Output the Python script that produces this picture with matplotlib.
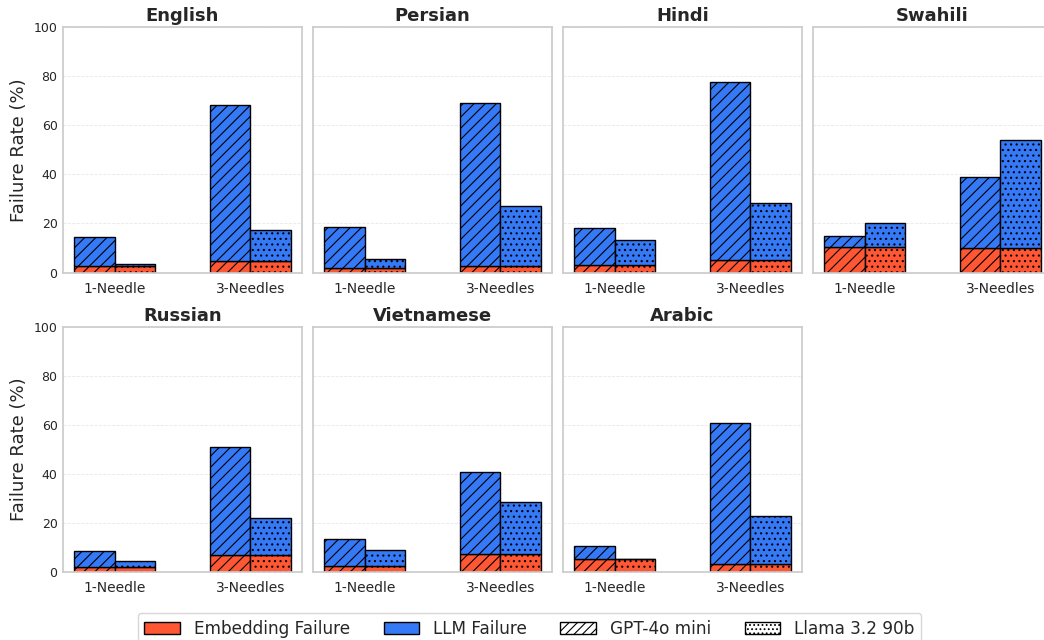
import numpy as np
import seaborn as sns
from matplotlib import pyplot as plt
from matplotlib.patches import Patch

sns.set_theme(style="whitegrid")
plt.rcParams["hatch.linewidth"] = 0.8

languages = ["English", "Persian", "Hindi", "Swahili", "Russian", "Vietnamese", "Arabic"]
conditions = ["1-Needle", "3-Needles"]

# total failure rate (%) per language: [1-Needle, 3-Needles]
gpt_total = [[14.6, 68.3], [18.4, 69.0], [18.0, 77.5], [14.7, 39.0],
             [8.8, 50.8], [13.5, 40.8], [10.8, 60.8]]
llama_total = [[3.3, 17.3], [5.6, 27.2], [13.1, 28.4], [20.3, 54.0],
               [4.5, 22.0], [8.9, 28.6], [5.5, 23.0]]
# embedding failure part (same retriever for both LLMs)
embed = [[2.7, 4.5], [1.9, 2.7], [3.1, 5.0], [10.3, 9.9],
         [2.0, 7.0], [2.6, 7.2], [5.3, 3.2]]

red = "#FF5733"
blue = "#3579F6"
width = 0.3

fig, axes = plt.subplots(2, 4, figsize=(10.44, 6.4))
axes = axes.flatten()
x = np.arange(len(conditions))

for i, lang in enumerate(languages):
    ax = axes[i]
    emb = np.array(embed[i])
    g = np.array(gpt_total[i])
    l = np.array(llama_total[i])
    # GPT-4o mini bars (hatched)
    ax.bar(x - width / 2, emb, width, color=red, edgecolor="black", hatch="///", linewidth=1)
    ax.bar(x - width / 2, g - emb, width, bottom=emb, color=blue, edgecolor="black", hatch="///", linewidth=1)
    # Llama bars (dotted)
    ax.bar(x + width / 2, emb, width, color=red, edgecolor="black", hatch="...", linewidth=1)
    ax.bar(x + width / 2, l - emb, width, bottom=emb, color=blue, edgecolor="black", hatch="...", linewidth=1)

    ax.set_title(lang, fontsize=13, fontweight="bold", pad=4)
    ax.set_ylim(0, 100)
    ax.set_xticks(x)
    ax.set_xticklabels(conditions, fontsize=10)
    ax.grid(axis="x", visible=False)
    ax.grid(axis="y", color="#e8e8e8", linestyle="--", linewidth=0.6)
    ax.tick_params(axis="x", length=0, pad=6.5)
    ax.tick_params(axis="y", length=0, pad=4)
    for s in ax.spines.values():
        s.set_color("#cccccc")
    if i % 4 == 0:
        ax.set_ylabel("Failure Rate (%)", fontsize=13)
        ax.tick_params(axis="y", labelsize=9)
    else:
        ax.set_yticklabels([])

axes[7].axis("off")

handles = [Patch(facecolor=red, edgecolor="black", label="Embedding Failure"),
           Patch(facecolor=blue, edgecolor="black", label="LLM Failure"),
           Patch(facecolor="white", edgecolor="black", hatch="////", label="GPT-4o mini"),
           Patch(facecolor="white", edgecolor="black", hatch="....", label="Llama 3.2 90b")]
fig.legend(handles=handles, loc="lower center", ncol=4, fontsize=12.2,
           bbox_to_anchor=(0.507, -0.02), frameon=True, columnspacing=2.0,
           handlelength=2.1)

plt.subplots_adjust(left=0.0604, right=1.0077, top=0.958, bottom=0.106, wspace=0.046, hspace=0.22)
plt.savefig("out.png", dpi=100)
